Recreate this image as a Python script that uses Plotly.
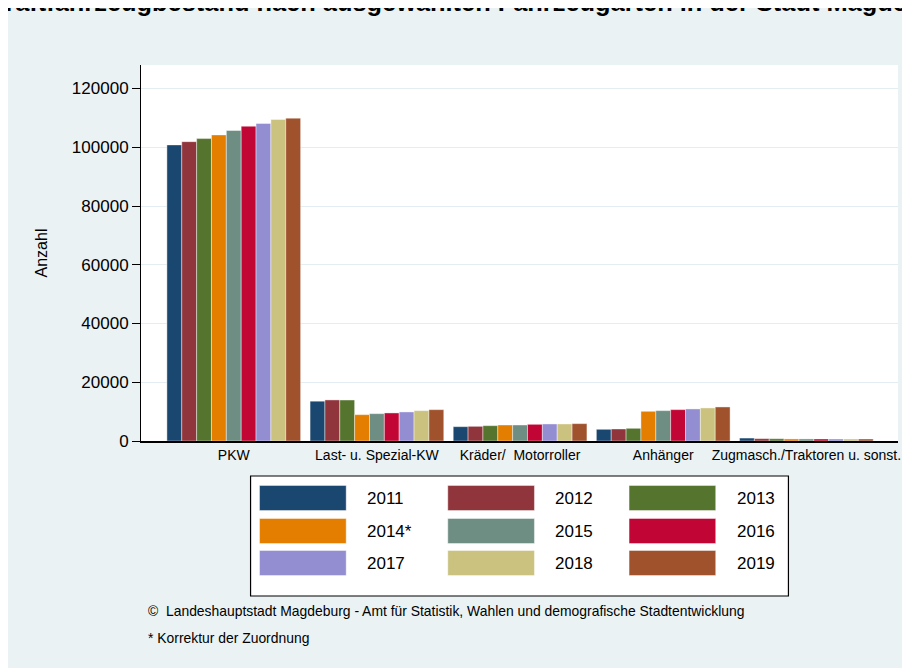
import plotly.graph_objects as go

# Daten
kategorien = ["PKW", "Last- u. Spezial-KW", "Kräder/\u00a0 Motorroller", "Anhänger",
              "Zugmasch./Traktoren u. sonst."]
jahre = ["2011", "2012", "2013", "2014*", "2015", "2016", "2017", "2018", "2019"]
farben = ["#1a476f", "#90353b", "#55752f", "#e37e00", "#6e8e84",
          "#c10534", "#938dd2", "#cac27e", "#a0522d"]

# Bestand je Jahr (Reihenfolge wie kategorien)
werte = {
    "2011": [100800, 13550, 4880, 3980, 1000],
    "2012": [101900, 13980, 4990, 4090, 800],
    "2013": [102950, 13950, 5220, 4320, 780],
    "2014*": [104200, 8970, 5450, 10110, 700],
    "2015": [105700, 9310, 5450, 10340, 700],
    "2016": [107150, 9550, 5680, 10680, 690],
    "2017": [108100, 9890, 5800, 10910, 680],
    "2018": [109450, 10330, 5800, 11250, 680],
    "2019": [109900, 10670, 5910, 11590, 690],
}

titel = "Kraftfahrzeugbestand nach ausgewählten Fahrzeugarten in der Stadt Magdeburg"
quelle = "©  Landeshauptstadt Magdeburg - Amt für Statistik, Wahlen und demografische Stadtentwicklung"
fussnote = "* Korrektur der Zuordnung"

W, H = 902, 660
L, R, T, B = 133, 9, 57, 227
FONT = "Liberation Sans, Arial, sans-serif"
PANEL = "#eaf2f4"


def px(x):
    return (x - L) / (W - L - R)


def py(y):
    return (H - B - y) / (H - T - B)


fig = go.Figure()
for jahr, farbe in zip(jahre, farben):
    fig.add_trace(go.Bar(
        x=kategorien, y=werte[jahr], name=jahr,
        marker=dict(color=farbe, line=dict(color="rgba(255,255,255,0.7)", width=0.6)),
        showlegend=False,
    ))

# Legende von Hand (grosse Farbfelder, 3 Spalten)
shapes = [
    dict(type="rect", xref="paper", yref="paper", x0=px(243), x1=px(783), y0=py(588), y1=py(468),
         fillcolor="white", line=dict(color="black", width=1.2)),
]
annotations = []
spalten_x = [252, 441, 623]
zeilen_y = [490, 523, 555]
for i, (jahr, farbe) in enumerate(zip(jahre, farben)):
    sx = spalten_x[i % 3]
    sy = zeilen_y[i // 3]
    shapes.append(dict(type="rect", xref="paper", yref="paper",
                       x0=px(sx), x1=px(sx + 87), y0=py(sy + 12.5), y1=py(sy - 12.5),
                       fillcolor=farbe, line=dict(color="rgba(255,255,255,0.7)", width=0.6)))
    annotations.append(dict(x=px(sx + 106), y=py(sy), xref="paper", yref="paper",
                            text=jahr, showarrow=False, xanchor="left", yanchor="middle",
                            font=dict(size=17, color="black", family=FONT)))

annotations += [
    dict(x=px(-24), y=py(10), xref="paper", yref="paper", text="<b>" + titel + "</b>",
         showarrow=False, xanchor="left", yanchor="bottom",
         font=dict(size=25.4, color="black", family=FONT)),
    dict(x=px(138), y=py(603), xref="paper", yref="paper", text=quelle,
         showarrow=False, xanchor="left", yanchor="middle",
         font=dict(size=13.9, color="black", family=FONT)),
    dict(x=px(138), y=py(630), xref="paper", yref="paper", text=fussnote,
         showarrow=False, xanchor="left", yanchor="middle",
         font=dict(size=13.9, color="black", family=FONT)),
]

fig.update_layout(
    width=W, height=H,
    margin=dict(l=L, r=R, t=T, b=B),
    paper_bgcolor=PANEL, plot_bgcolor="white",
    barmode="group", bargap=0.066, bargroupgap=0,
    font=dict(family=FONT, color="black"),
    shapes=shapes, annotations=annotations,
)
fig.update_yaxes(
    range=[0, 128000], tickvals=[0, 20000, 40000, 60000, 80000, 100000, 120000],
    tickformat="d", ticks="outside", ticklen=8, tickcolor="black",
    showline=True, linecolor="black", linewidth=1,
    showgrid=True, gridcolor="#e4eef2", gridwidth=1, zeroline=False,
    tickfont=dict(size=17), title=dict(text="Anzahl", font=dict(size=16), standoff=20),
)
fig.update_xaxes(
    range=[-0.648, 4.64], showline=True, linecolor="black", linewidth=1.5,
    ticks="", tickfont=dict(size=14), showgrid=False,
)

fig.write_html("out.html")
